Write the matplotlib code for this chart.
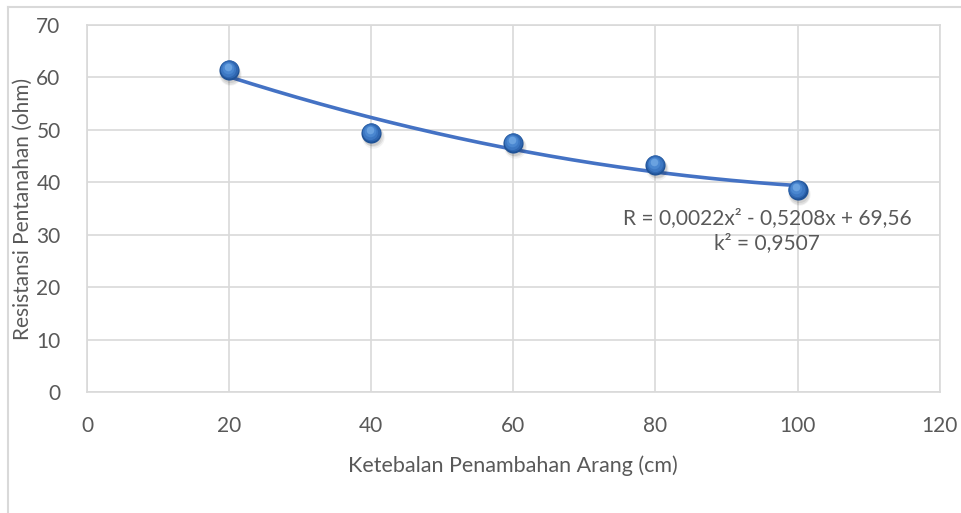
import numpy as np
import matplotlib
matplotlib.use("Agg")
import matplotlib.pyplot as plt
from matplotlib.transforms import offset_copy

ketebalan = [20, 40, 60, 80, 100]
resistansi = [61.4, 49.4, 47.5, 43.3, 38.5]
x_ticks = [0, 20, 40, 60, 80, 100, 120]
y_ticks = [0, 10, 20, 30, 40, 50, 60, 70]
persamaan = "R = 0,0022x² - 0,5208x + 69,56\nk² = 0,9507"

plt.rcParams["font.family"] = ["Lato", "DejaVu Sans"]
grey = "#595959"
grid = "#d9d9d9"
blue = "#4472c4"

fig = plt.figure(figsize=(9.61, 5.13), dpi=100)
ax = fig.add_axes([0.0905, 0.2359, 0.8873, 0.7154])

# trendline (polynomial order 2)
coef = np.polyfit(ketebalan, resistansi, 2)
xs = np.linspace(20, 100, 200)
ax.plot(xs, np.polyval(coef, xs), color=blue, lw=2.6, zorder=3, solid_capstyle="round")

# spherical markers: soft shadow, body, gradient layers
for dx, dy, s, a in [(1.0, -3.0, 260, 0.05), (1.0, -2.5, 220, 0.07), (0.8, -2.0, 190, 0.08)]:
    sh = offset_copy(ax.transData, fig=fig, x=dx, y=dy, units="points")
    ax.scatter(ketebalan, resistansi, s=s, color="#000000", alpha=a, lw=0,
               transform=sh, zorder=4)
layers = [(0.0, 0.0, 210, "#1f5296"), (-0.3, 0.5, 170, "#2f66b0"),
          (-0.6, 1.0, 120, "#3c77c2"), (-0.9, 1.6, 70, "#4a87d0"),
          (-1.1, 2.2, 30, "#6aa2e0")]
for dx, dy, s, c in layers:
    tr = offset_copy(ax.transData, fig=fig, x=dx, y=dy, units="points")
    ax.scatter(ketebalan, resistansi, s=s, color=c, lw=0, transform=tr, zorder=5)

ax.text(95.7, 30.8, persamaan, ha="center", va="center", fontsize=15,
        color=grey, linespacing=1.3, zorder=8)

ax.set_xlim(0, 120)
ax.set_ylim(0, 70)
ax.set_xticks(x_ticks)
ax.set_yticks(y_ticks)
ax.tick_params(length=0, labelsize=15, labelcolor=grey)
ax.tick_params(axis="x", pad=17)
ax.tick_params(axis="y", pad=19)
ax.grid(True, color=grid, lw=1.2)
ax.set_axisbelow(True)
for s in ax.spines.values():
    s.set_color(grid)
    s.set_linewidth(1.2)

ax.set_xlabel("Ketebalan Penambahan Arang (cm)", fontsize=15.5, color=grey, labelpad=14)
ax.set_ylabel("Resistansi Pentanahan (ohm)", fontsize=15, color=grey)
ax.yaxis.set_label_coords(-0.0635, 0.5)

# chart frame (left and top edges visible)
fig.add_artist(plt.Line2D([8 / 961, 8 / 961], [0, 1 - 7 / 513], color=grid, lw=1.5,
                          transform=fig.transFigure))
fig.add_artist(plt.Line2D([8 / 961, 1], [1 - 7 / 513, 1 - 7 / 513], color=grid, lw=1.5,
                          transform=fig.transFigure))

fig.savefig("out.png", dpi=100)
